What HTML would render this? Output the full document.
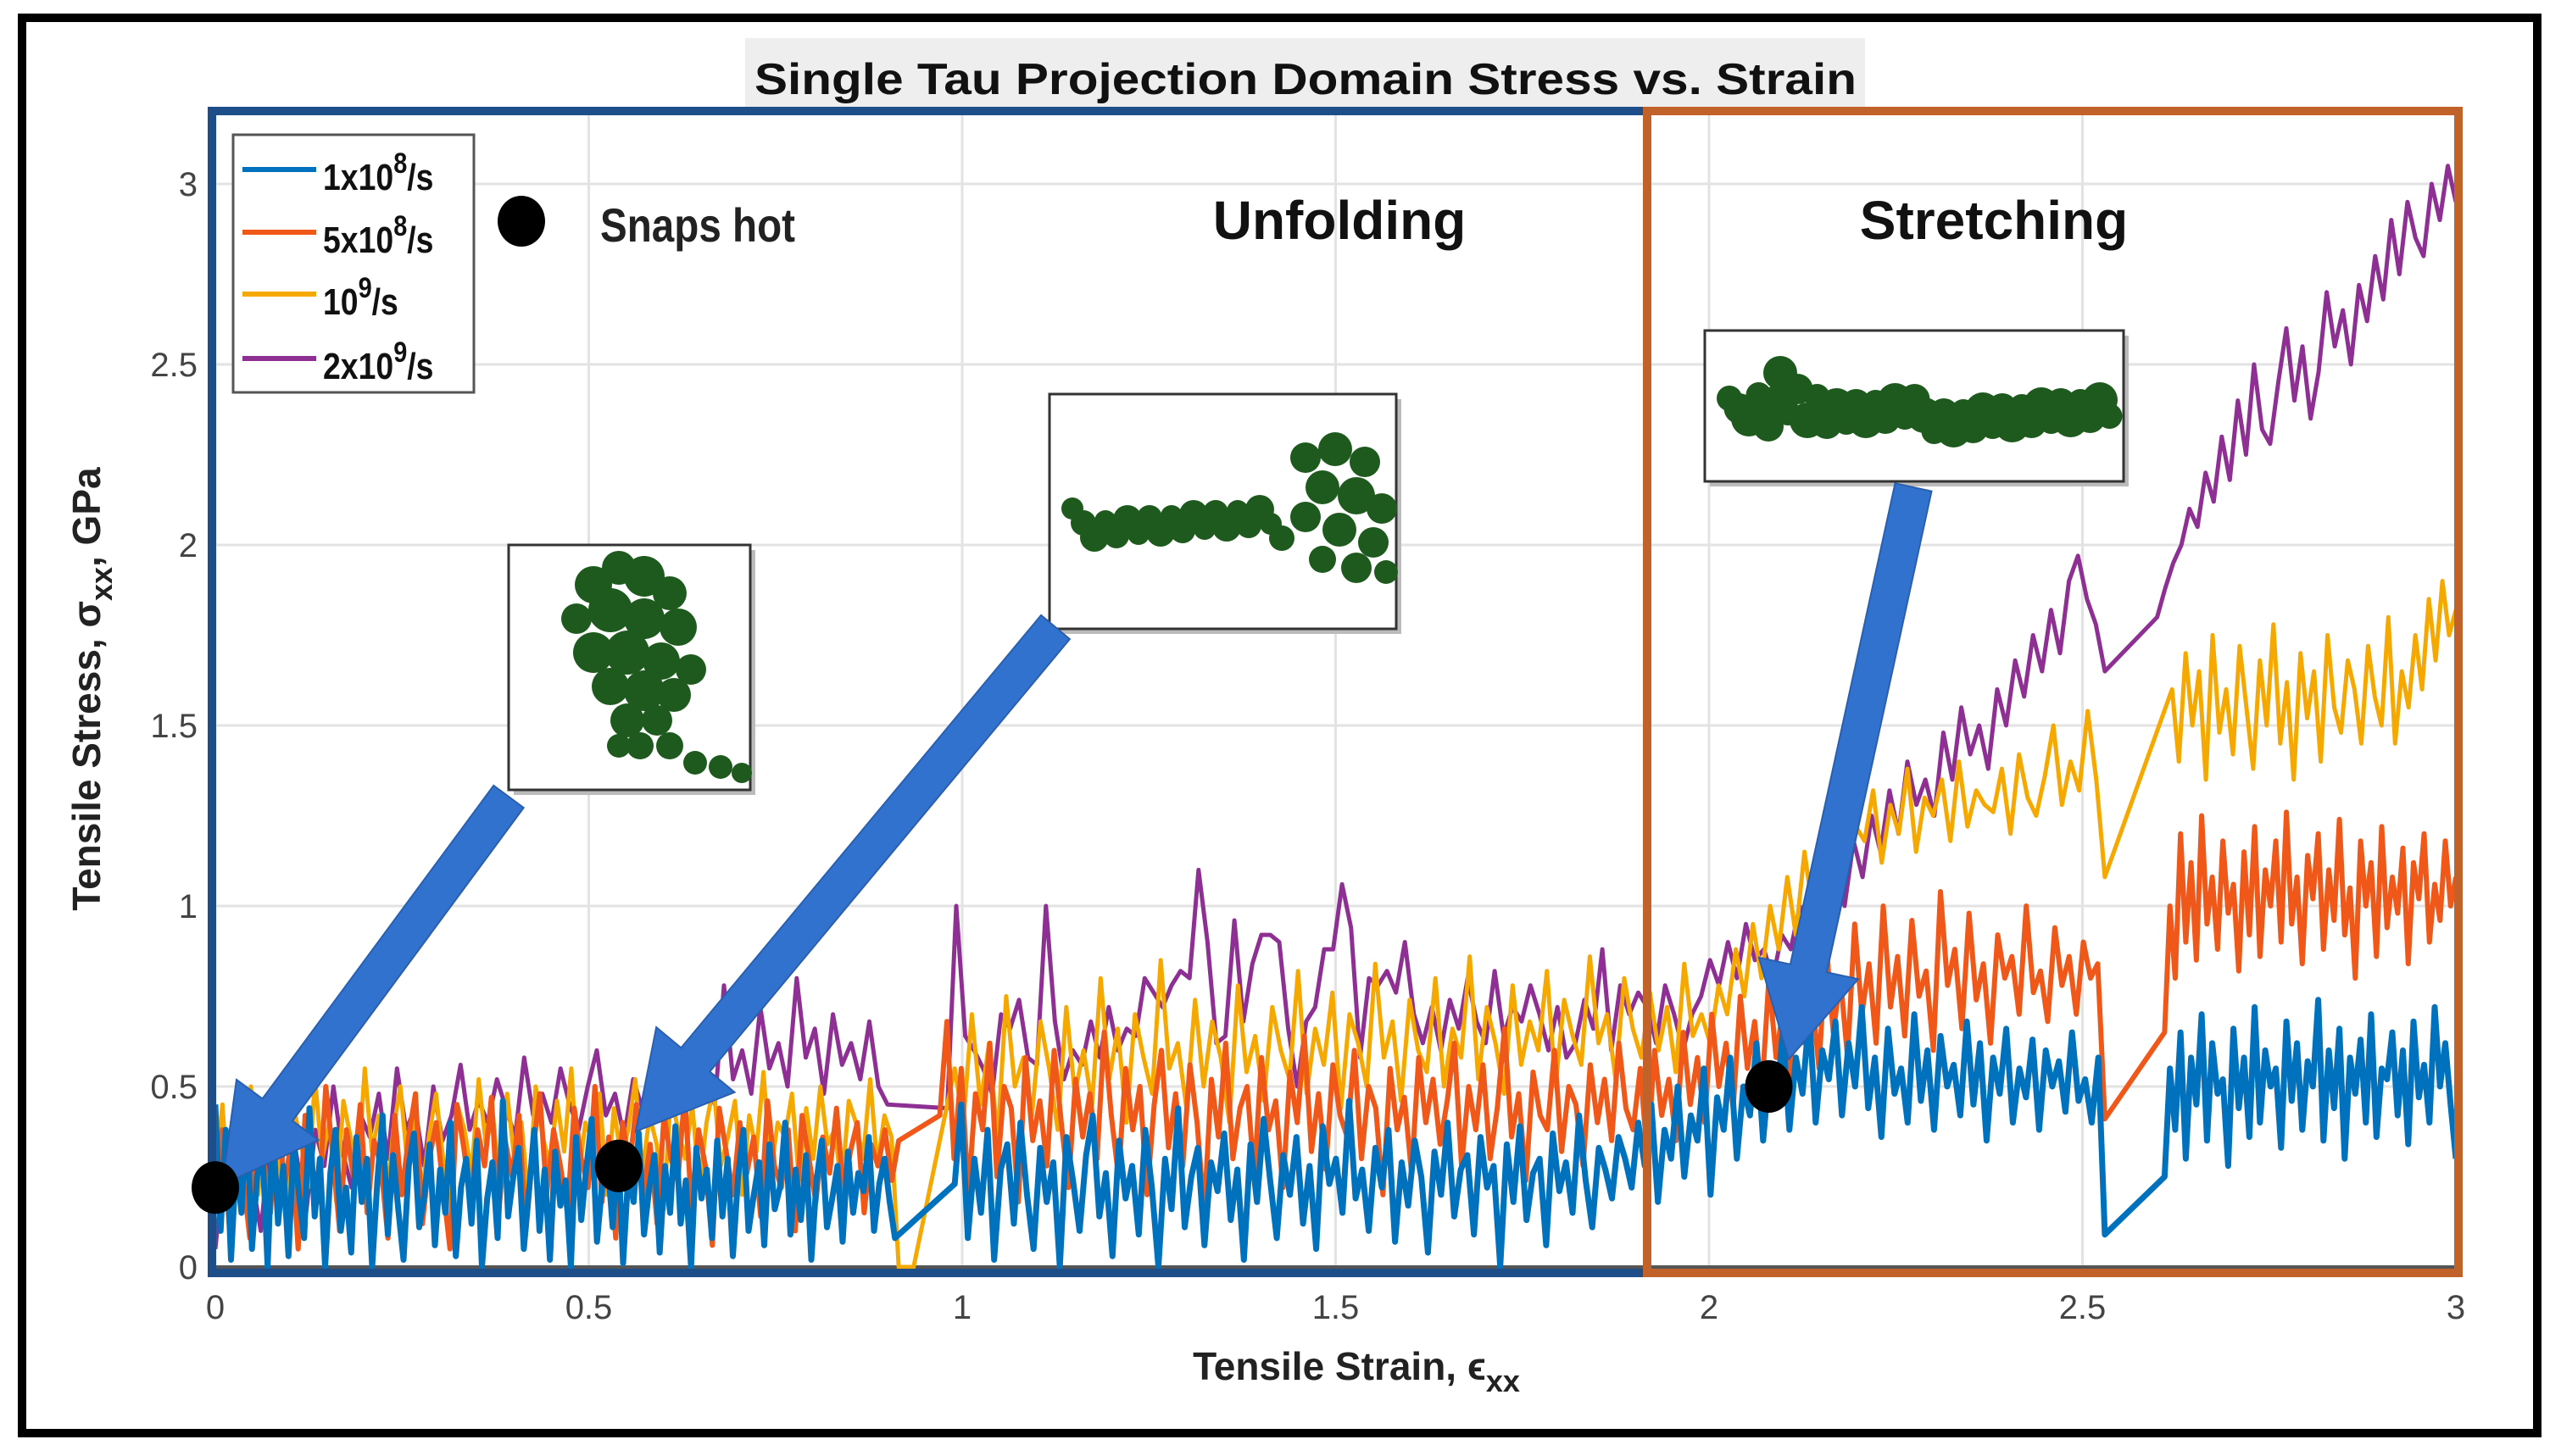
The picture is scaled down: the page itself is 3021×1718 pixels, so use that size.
<!DOCTYPE html>
<html><head><meta charset="utf-8"><style>
html,body{margin:0;padding:0;background:#fff;}
svg{display:block;}
text{font-family:"Liberation Sans",sans-serif;}
</style></head><body>
<svg id="chart" width="3021" height="1718" viewBox="0 0 3021 1718" xmlns="http://www.w3.org/2000/svg">
<rect x="0" y="0" width="3021" height="1718" fill="#fff"/>
<g id="grid"></g>
<g id="series"></g>
<g id="frames">
<rect x="250" y="131" width="1693" height="1371" fill="none" stroke="#1d4e8a" stroke-width="10"/>
<rect x="1943" y="131" width="957" height="1371" fill="none" stroke="#c0622a" stroke-width="10"/>
</g>
<g id="ticklabels"></g>
<g id="insets"></g>
<g id="arrows"></g>
<g id="snaps"></g>
<rect x="879" y="45" width="1321" height="81" fill="#eeeeee"/>
<text x="1540" y="111" font-size="52" font-weight="bold" text-anchor="middle" fill="#111" textLength="1300" lengthAdjust="spacingAndGlyphs">Single Tau Projection Domain Stress vs. Strain</text>
<text x="1580" y="282" font-size="64" font-weight="bold" text-anchor="middle" fill="#111">Unfolding</text>
<text x="2352" y="282" font-size="64" font-weight="bold" text-anchor="middle" fill="#111">Stretching</text>
<g>
<rect x="275" y="159" width="284" height="304" fill="#fff" stroke="#555" stroke-width="3"/>
<line x1="286" y1="200" x2="373" y2="200" stroke="#0072bd" stroke-width="6"/>
<text x="381" y="224" font-size="44" font-weight="bold" fill="#111" transform="translate(381,0) scale(0.85,1) translate(-381,0)">1x10<tspan dy="-20" font-size="34">8</tspan><tspan dy="20">/s</tspan></text>
<line x1="286" y1="274" x2="373" y2="274" stroke="#f0581a" stroke-width="6"/>
<text x="381" y="298" font-size="44" font-weight="bold" fill="#111" transform="translate(381,0) scale(0.85,1) translate(-381,0)">5x10<tspan dy="-20" font-size="34">8</tspan><tspan dy="20">/s</tspan></text>
<line x1="286" y1="347" x2="373" y2="347" stroke="#f5a800" stroke-width="6"/>
<text x="381" y="371" font-size="44" font-weight="bold" fill="#111" transform="translate(381,0) scale(0.85,1) translate(-381,0)">10<tspan dy="-20" font-size="34">9</tspan><tspan dy="20">/s</tspan></text>
<line x1="286" y1="423" x2="373" y2="423" stroke="#8e2f94" stroke-width="6"/>
<text x="381" y="447" font-size="44" font-weight="bold" fill="#111" transform="translate(381,0) scale(0.85,1) translate(-381,0)">2x10<tspan dy="-20" font-size="34">9</tspan><tspan dy="20">/s</tspan></text>
</g>
<ellipse cx="615" cy="261" rx="28" ry="30" fill="#000"/>
<text x="708" y="285" font-size="56" font-weight="bold" fill="#222" transform="translate(708,0) scale(0.85,1) translate(-708,0)">Snaps hot</text>
<text x="1600" y="1628" font-size="46" font-weight="bold" text-anchor="middle" fill="#222">Tensile Strain, ϵ<tspan dy="14" font-size="36">xx</tspan></text>
<text transform="translate(118,813) rotate(-90)" font-size="46" font-weight="bold" text-anchor="middle" fill="#222">Tensile Stress, σ<tspan dy="14" font-size="36">xx</tspan><tspan dy="-14">, GPa</tspan></text>
<rect x="26" y="21" width="2967" height="1670" fill="none" stroke="#000" stroke-width="10"/>
</svg>
<script>
const xTicks=[0,0.5,1,1.5,2,2.5,3];
const yTicks=[0,0.5,1,1.5,2,2.5,3];
const xTickLabels=["0","0.5","1","1.5","2","2.5","3"];
const yTickLabels=["0","0.5","1","1.5","2","2.5","3"];
// each series: segments of [startStrain, endStrain, values in 0.01 GPa]
const blueSegments=[
[0,0.91,[45,10,38,2,30,15,42,5,25,33,0,40,12,28,3,35,20,8,44,14,30,0,26,38,10,22,4,36,18,30,0,24,42,9,31,16,2,28,37,11,20,34,6,27,15,40,3,22,30,12,35,0,19,29,8,46,14,25,33,5,21,38,10,27,2,32,17,24,0,36,13,28,41,7,23,30,11,34,1,26,18,37,9,22,31,4,28,15,39,12,24,0,33,19,27,8,35,14,30,3,25,38,10,20,29,6,34,16,22,40,9,27,13,31,2,24,35,11,19,28,7,32,15,26,21,36,10,23,30,18,8]],
[0.99,2.53,[23,45,8,30,15,38,2,27,34,12,40,20,5,33,18,29,0,36,24,10,31,42,14,26,3,35,19,28,9,38,22,0,30,16,44,11,25,33,6,29,21,37,13,27,2,34,18,41,24,8,31,20,36,12,28,5,39,23,30,15,46,19,27,10,33,22,38,7,29,17,35,25,4,32,20,40,14,27,31,9,36,22,28,0,34,18,39,13,26,30,6,37,21,29,15,42,24,11,33,27,19,36,30,22,40,28,45,18,38,30,50,25,42,35,55,20,47,38,58,30,50,42,62,35,55,45,65,38,58,48,70,40,60,52,68,42,62,50,72,44,58,36,66,48,55,40,70,46,60,38,64,50,56,42,68,45,62,35,58,48,66,40,55,47,63,38,60,50,57,43,65,46,52,40,58,9]],
[2.61,3.0,[25,55,38,65,30,58,45,70,35,62,48,52,28,66,44,58,36,72,40,60,50,55,33,68,46,62,38,57,50,74,35,60,44,66,30,58,48,63,40,70,36,55,52,65,42,60,34,68,47,56,40,72,50,62,45,30]]
];
const orangeSegments=[
[0,0.915,[20,38,12,45,25,8,40,30,15,48,22,35,5,42,28,18,50,32,10,38,25,45,15,35,28,8,42,20,36,48,12,30,40,22,5,45,33,18,38,28,47,14,35,25,42,10,32,48,20,38,28,15,44,30,22,50,18,36,8,40,28,45,20,34,12,42,30,24,48,16,38,28,6,44,32,20,40,26,36,14,46,28,22,38,10,42,30,18,36,26,44,20,32,40,15,34,28,38,24,35]],
[0.97,2.53,[42,68,30,55,20,48,38,62,25,50,44,18,58,35,46,28,60,40,22,52,36,48,30,65,42,25,55,38,50,20,45,60,33,48,28,56,40,15,52,36,62,30,44,50,25,58,38,46,22,54,40,64,32,48,27,56,42,36,60,30,50,44,20,55,38,47,26,58,40,52,34,46,62,28,50,38,56,30,44,66,36,48,24,54,42,38,60,32,50,45,28,56,40,52,35,62,44,38,55,30,60,42,52,35,65,45,58,40,70,50,62,44,75,55,68,48,80,58,72,52,85,62,76,55,90,65,80,58,95,70,84,62,100,72,86,64,96,75,82,60,104,78,88,66,98,74,84,62,92,80,86,70,100,76,82,68,94,78,86,70,90,80,84,41]],
[2.61,3.0,[65,100,80,120,90,112,85,125,95,108,88,118,98,106,82,115,92,122,86,110,100,118,90,126,95,108,84,114,102,120,88,110,96,124,92,105,80,118,100,112,86,122,94,108,98,116,84,112,102,120,90,106,96,118,100,108]]
];
const yellowSegments=[
[0,0.915,[25,45,15,40,30,50,20,38,48,28,12,44,35,22,52,30,40,18,46,36,25,55,32,42,15,38,50,28,44,20,36,48,30,14,45,38,26,52,34,42,22,48,30,40,18,50,36,28,46,32,55,24,40,35,48,20,44,30,38,52,26,42,34,16,48,38,30,45,22,40,50,28,36,46,20,42,32,54,26,40,36,48,24,44,30,50,34,38,22,46,40,30,52,28,42,36,0]],
[0.935,0.935,[0]],
[0.99,2.53,[55,40,70,45,62,35,75,50,58,42,68,55,38,72,48,60,45,80,52,66,40,70,58,48,85,55,62,44,74,50,68,58,40,78,54,64,46,72,60,52,82,48,66,56,76,44,70,62,50,84,58,68,46,74,60,54,80,50,66,58,86,52,72,62,48,78,56,68,60,82,50,74,64,56,86,62,70,52,80,66,58,76,60,72,54,84,64,70,62,78,70,88,75,95,80,100,88,108,92,115,98,120,105,128,110,122,118,132,112,128,120,138,115,130,125,135,118,140,122,132,128,126,138,120,142,130,125,136,150,128,140,132,154,135,108]],
[2.62,3.0,[160,140,170,150,165,135,175,148,160,142,172,155,138,168,150,178,145,162,135,170,152,165,140,175,155,148,168,160,145,172,158,150,180,145,165,155,175,160,185,168,190,175,182]]
];
const purpleSegments=[
[0,0.9,[5,30,15,40,25,10,35,20,45,30,15,38,28,50,32,22,42,36,48,30,55,38,44,28,50,35,42,56,38,46,40,52,44,36,58,42,48,40,55,45,38,50,60,42,48,36,52,44,40,58,46,50,62,48,55,45,78,52,60,48,72,55,62,50,80,58,66,48,70,56,62,52,68,50,45]],
[0.98,2.53,[44,100,64,60,55,48,70,66,74,58,56,100,68,52,60,56,68,58,72,60,66,64,80,76,72,78,82,80,110,90,62,64,96,68,84,92,92,90,66,50,68,72,88,88,106,94,58,80,78,82,76,90,70,62,72,60,74,66,80,68,62,82,64,72,68,78,70,60,72,58,62,74,66,88,60,78,70,76,72,62,78,70,60,70,75,85,78,90,80,95,85,88,80,92,88,100,95,105,92,110,100,118,108,125,115,132,120,140,128,135,125,148,135,155,142,150,138,160,150,168,158,175,165,182,170,190,197,185,178,165]],
[2.6,3.0,[180,188,195,200,210,205,220,212,230,218,240,225,250,232,228,245,260,240,255,235,248,270,255,265,250,272,262,280,268,290,275,295,285,280,300,290,305,295]]
];
const snapStrain=[0,0.54,2.08];
const snapStress=[0.22,0.28,0.5];

const NS="http://www.w3.org/2000/svg";
const X0=254,KX=881,Y0=1495,KY=426;
function sx(v){return X0+v*KX;}
function sy(v){return Y0-v*KY;}
function mk(tag,attrs,parent){const e=document.createElementNS(NS,tag);for(const k in attrs)e.setAttribute(k,attrs[k]);parent.appendChild(e);return e;}

const grid=document.getElementById('grid');
xTicks.forEach(t=>{
  const l=mk('line',{x1:sx(t),x2:sx(t),y1:131,y2:1495,stroke:'#e3e3e3','stroke-width':3},grid);
  
  
});
yTicks.forEach(t=>{
  const l=mk('line',{x1:250,x2:2900,y1:sy(t),y2:sy(t),stroke:'#e3e3e3','stroke-width':3},grid);
  
  
});
const ax=mk('line',{x1:250,x2:2900,y1:sy(0),y2:sy(0),stroke:'#555','stroke-width':4},grid);



const tl=document.getElementById('ticklabels');
xTicks.forEach((t,i)=>{
  const e=mk('text',{x:sx(t),y:1556,'font-size':40,'text-anchor':'middle',fill:'#444'},tl);
  e.textContent=xTickLabels[i];
  
  
});
yTicks.forEach((t,i)=>{
  const e=mk('text',{x:233,y:sy(t)+14,'font-size':40,'text-anchor':'end',fill:'#444'},tl);
  e.textContent=yTickLabels[i];
  
  
});

const sg=document.getElementById('series');
function drawSeries(segs,color,w,name){
  const pts=[];
  segs.forEach(s=>{
    const [a,b,vals]=s;const n=vals.length;
    vals.forEach((v,i)=>{const x=n>1?a+(b-a)*i/(n-1):a;pts.push(sx(x).toFixed(1)+','+sy(v/100).toFixed(1));});
  });
  const p=mk('polyline',{points:pts.join(' '),fill:'none',stroke:color,'stroke-width':w,'stroke-linejoin':'round'},sg);
  
  
}
drawSeries(purpleSegments,'#8e2f94',5,'series-2e9');
drawSeries(yellowSegments,'#f5a800',5,'series-1e9');
drawSeries(orangeSegments,'#f0581a',6,'series-5e8');
drawSeries(blueSegments,'#0072bd',7,'series-1e8');

// insets
const ins=document.getElementById('insets');
function inset(x,y,w,h,name,blobs){
  const g=mk('g',{},ins);
  
  
  mk('rect',{x:x+6,y:y+6,width:w,height:h,fill:'#bbb'},g);
  mk('rect',{x:x,y:y,width:w,height:h,fill:'#fff',stroke:'#333','stroke-width':3},g);
  blobs.forEach(b=>{mk('circle',{cx:b[0],cy:b[1],r:b[2],fill:'#1e5a1e'},g);});
}
const b1=[[700,690,22],[730,670,20],[760,680,24],[790,700,20],[680,730,18],[720,720,26],[760,730,24],[800,740,22],[700,770,24],[740,770,26],[780,780,22],[815,790,18],[720,810,22],[760,815,24],[795,820,20],[740,850,20],[775,850,18],[755,880,16],[790,880,16],[820,900,14],[850,905,14],[875,912,12],[730,880,14]];
inset(600,643,285,289,'snapshot-inset-folded',b1);
const b2=[];
for(let i=0;i<20;i++){b2.push([1265+i*13,600+((i*17)%36),13+(i%3)*2]);}
[[1540,540,18],[1575,530,20],[1610,545,18],[1560,575,20],[1600,585,22],[1630,600,18],[1540,610,18],[1580,625,20],[1620,640,18],[1560,660,16],[1600,670,18],[1635,675,14]].forEach(b=>b2.push(b));
inset(1238,465,409,277,'snapshot-inset-unfolding',b2);
const b3=[];
for(let i=0;i<40;i++){b3.push([2040+i*11.5,470+((i*19)%40)-(i<10?((i*7)%25):0),15+(i%3)*3]);}
b3.push([2100,440,20]);
inset(2011,390,494,178,'snapshot-inset-stretched',b3);

// arrows
const ar=document.getElementById('arrows');
function arrow(x1,y1,x2,y2,name){
  const dx=x2-x1,dy=y2-y1,L=Math.hypot(dx,dy),ux=dx/L,uy=dy/L,nx=-uy,ny=ux;
  const sw=22,hw=60,hl=110;
  const bx=x2-ux*hl,by=y2-uy*hl;
  const p=[[x1+nx*sw,y1+ny*sw],[bx+nx*sw,by+ny*sw],[bx+nx*hw,by+ny*hw],[x2,y2],[bx-nx*hw,by-ny*hw],[bx-nx*sw,by-ny*sw],[x1-nx*sw,y1-ny*sw]];
  const e=mk('polygon',{points:p.map(q=>q[0].toFixed(1)+','+q[1].toFixed(1)).join(' '),fill:'#3172cf',stroke:'#2a5fae','stroke-width':2},ar);
  
  
}
arrow(600,940,262,1398,'arrow-folded');
arrow(1245,740,750,1335,'arrow-unfolding');
arrow(2257,575,2110,1250,'arrow-stretched');

const sn=document.getElementById('snaps');
snapStrain.forEach((s,i)=>{
  const e=mk('ellipse',{cx:sx(s),cy:sy(snapStress[i]),rx:28,ry:31,fill:'#000'},sn);
  
  
});
</script>
</body></html>
